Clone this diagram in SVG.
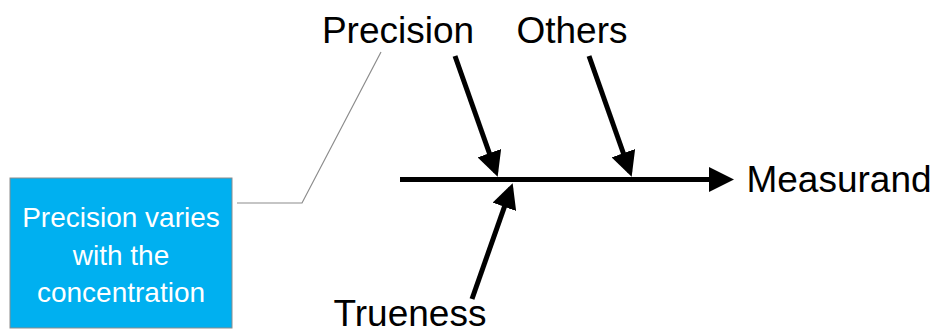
<svg xmlns="http://www.w3.org/2000/svg" width="939" height="335" viewBox="0 0 939 335">
<style>
.lbl{font-family:"Liberation Sans",Arial,sans-serif;font-size:37px;fill:#000;text-anchor:middle}
.box{font-family:"Liberation Sans",Arial,sans-serif;font-size:28px;fill:#fff;text-anchor:middle}
.arr{stroke:#000;stroke-width:5;fill:none}
</style>
<defs>
<marker id="ah" markerWidth="5" markerHeight="5" refX="4" refY="2.5" orient="auto" markerUnits="strokeWidth">
<path d="M0,0 L5,2.5 L0,5 z" fill="#000"/>
</marker>
</defs>
<rect width="939" height="335" fill="#fff"/>
<g id="connectors">
<line class="arr" x1="400" y1="179.5" x2="729" y2="179.5" marker-end="url(#ah)"/>
<line class="arr" x1="455" y1="56" x2="496" y2="172" marker-end="url(#ah)"/>
<line class="arr" x1="589" y1="56" x2="630" y2="172" marker-end="url(#ah)"/>
<line class="arr" x1="472" y1="299" x2="511" y2="188" marker-end="url(#ah)"/>
<polyline points="237,203 302,203 381,52" fill="none" stroke="#8c8c8c" stroke-width="1.2"/>
</g>
<g id="precision"><text class="lbl" x="398" y="43">Precision</text></g>
<g id="others"><text class="lbl" x="572" y="43">Others</text></g>
<g id="measurand"><text class="lbl" x="839" y="192">Measurand</text></g>
<g id="trueness"><text class="lbl" x="410" y="326">Trueness</text></g>
<g id="note">
<rect x="10" y="178" width="222" height="150" fill="#00B0F0" stroke="#8c8c8c" stroke-width="1"/>
<text class="box" x="121" y="227">Precision varies</text>
<text class="box" x="121" y="265">with the</text>
<text class="box" x="121" y="302">concentration</text>
</g>
</svg>
